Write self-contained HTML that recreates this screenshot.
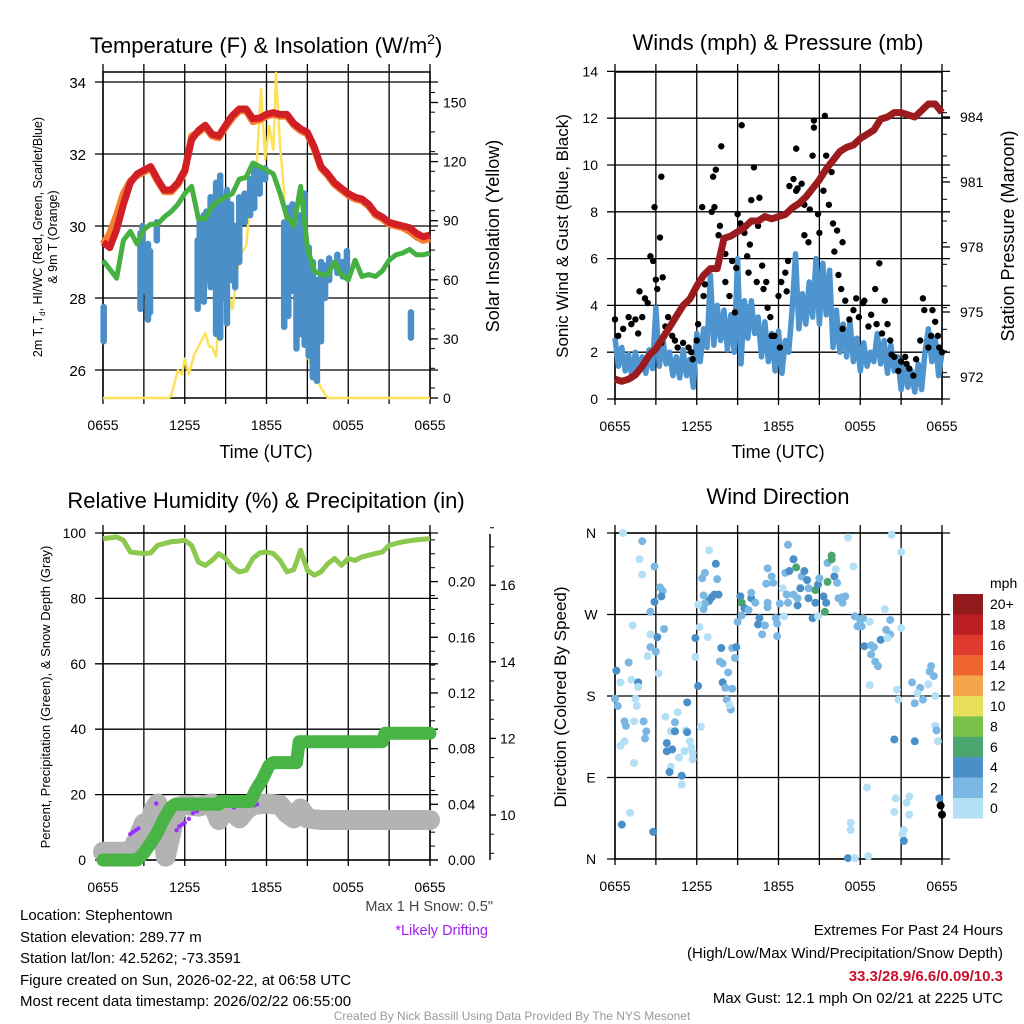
<!DOCTYPE html>
<html><head><meta charset="utf-8">
<style>
html,body{margin:0;padding:0;background:#fff;}
svg{display:block;font-family:"Liberation Sans",Arial,sans-serif;}
</style></head>
<body>
<svg id="root" width="1024" height="1024" viewBox="0 0 1024 1024" xmlns="http://www.w3.org/2000/svg">
<rect width="1024" height="1024" fill="#fff"/>
<g id="p1"></g>
<g id="p2"></g>
<g id="p3"></g>
<g id="p4"></g>
<text x="266" y="53" font-size="22" text-anchor="middle">Temperature (F) &amp; Insolation (W/m<tspan font-size="14" dy="-9">2</tspan><tspan dy="9">)</tspan></text>
<text x="778" y="50" font-size="22" text-anchor="middle">Winds (mph) &amp; Pressure (mb)</text>
<text x="266" y="508" font-size="22" text-anchor="middle">Relative Humidity (%) &amp; Precipitation (in)</text>
<text x="778" y="504" font-size="22" text-anchor="middle">Wind Direction</text>
<text x="266" y="458" font-size="18" text-anchor="middle">Time (UTC)</text>
<text x="778" y="458" font-size="18" text-anchor="middle">Time (UTC)</text>
<text font-size="12.5" text-anchor="middle" transform="translate(42,237) rotate(-90)">2m T, T<tspan font-size="8" dy="3">d</tspan><tspan dy="-3">, HI/WC (Red, Green, Scarlet/Blue)</tspan></text>
<text font-size="12.5" text-anchor="middle" transform="translate(57,237) rotate(-90)">&amp; 9m T (Orange)</text>
<text font-size="18" text-anchor="middle" transform="translate(499,236) rotate(-90)">Solar Insolation (Yellow)</text>
<text font-size="17" text-anchor="middle" transform="translate(568,236) rotate(-90)">Sonic Wind &amp; Gust (Blue, Black)</text>
<text font-size="18" text-anchor="middle" transform="translate(1014,236) rotate(-90)">Station Pressure (Maroon)</text>
<text font-size="13" text-anchor="middle" transform="translate(50,697) rotate(-90)">Percent, Precipitation (Green), &amp; Snow Depth (Gray)</text>
<text font-size="17" text-anchor="middle" transform="translate(566,697) rotate(-90)">Direction (Colored By Speed)</text>
<g font-size="15">
<text x="20" y="920">Location: Stephentown</text>
<text x="20" y="942">Station elevation: 289.77 m</text>
<text x="20" y="963">Station lat/lon: 42.5262; -73.3591</text>
<text x="20" y="985">Figure created on Sun, 2026-02-22, at 06:58 UTC</text>
<text x="20" y="1006">Most recent data timestamp: 2026/02/22 06:55:00</text>
</g>
<text x="493" y="911" font-size="14.5" fill="#444" text-anchor="end">Max 1 H Snow: 0.5"</text>
<text x="488" y="935" font-size="14.5" fill="#a020f0" text-anchor="end">*Likely Drifting</text>
<g font-size="15" text-anchor="end">
<text x="1003" y="935">Extremes For Past 24 Hours</text>
<text x="1003" y="958">(High/Low/Max Wind/Precipitation/Snow Depth)</text>
<text x="1003" y="981" fill="#c8102e" font-weight="bold">33.3/28.9/6.6/0.09/10.3</text>
<text x="1003" y="1003">Max Gust: 12.1 mph On 02/21 at 2225 UTC</text>
</g>
<text x="512" y="1020" font-size="12" fill="#999" text-anchor="middle">Created By Nick Bassill Using Data Provided By The NYS Mesonet</text>
</svg>
<script>
// ---------- DATA ----------
const hours = [0,0.5,1,1.5,2,2.5,3,3.5,4,4.5,5,5.5,6,6.5,7,7.5,8,8.5,9,9.5,10,10.5,11,11.5,12,12.5,13,13.5,14,14.5,15,15.5,16,16.5,17,17.5,18,18.5,19,19.5,20,20.5,21,21.5,22,22.5,23,23.5,24];
const tempRed = [29.55,29.4,29.9,30.6,31.2,31.45,31.55,31.65,31.3,31.0,31.0,31.2,31.55,32.4,32.65,32.8,32.55,32.5,32.8,33.07,33.25,33.25,32.98,33.0,33.1,33.15,33.1,33.1,32.85,32.7,32.6,32.2,31.65,31.45,31.2,31.05,30.9,30.8,30.75,30.6,30.35,30.25,30.1,30.05,30.0,29.95,29.8,29.7,29.75];
const temp9m = [29.5,29.8,30.3,30.9,31.25,31.4,31.5,31.6,31.25,30.95,30.95,31.15,31.5,32.5,32.6,32.75,32.5,32.45,32.75,33.0,33.2,33.2,32.9,32.95,33.05,33.1,33.05,33.05,32.8,32.65,32.55,32.15,31.6,31.4,31.15,31.0,30.85,30.75,30.7,30.55,30.3,30.2,30.05,30.0,29.95,29.85,29.7,29.6,29.65];
const dewGreen = [29.04,28.8,28.55,29.6,29.85,29.5,29.9,30.05,30.05,30.25,30.4,30.6,30.9,31.1,30.2,30.2,30.55,30.7,30.8,30.9,31.3,31.35,31.75,31.65,31.55,31.45,30.9,30.25,30.0,31.1,29.4,28.75,28.65,28.65,29.0,28.65,28.5,29.05,28.6,28.65,28.6,28.75,29.05,29.2,29.25,29.35,29.2,29.2,29.25];
const wcHours = [0.05,2.75,2.9,3.3,3.45,3.95,6.95,7.1,7.4,7.6,7.9,8.3,8.6,8.9,9.1,9.4,9.7,10.0,10.4,10.8,11.1,11.5,11.9,13.3,13.6,13.9,14.2,14.5,14.8,15.1,15.4,15.7,16.0,16.3,16.6,17.2,17.6,17.9,22.6];
const wcLow = [26.8,27.7,28.2,27.4,27.6,29.6,27.7,28.0,27.9,28.5,28.3,27.0,26.9,28.0,27.3,28.5,28.3,29.0,30.1,30.3,30.5,30.9,31.3,27.2,27.5,28.2,26.6,27.0,26.7,26.4,25.8,25.7,26.8,28.0,28.5,28.7,28.6,28.6,26.9];
const wcHigh = [27.75,29.8,30.0,29.5,29.3,30.1,29.6,30.2,30.3,30.4,30.8,31.2,31.4,30.8,31.0,30.6,30.0,30.8,30.9,31.3,31.6,31.6,31.6,30.1,30.5,30.6,30.0,30.3,30.9,29.4,29.0,28.5,29.0,28.9,29.1,29.2,29.0,29.3,27.6];
const solarHours = [0,4.8,5,5.5,5.8,6,6.3,6.7,7,7.5,7.8,8,8.3,8.5,9,9.5,10,10.5,10.8,11,11.3,11.6,11.9,12.2,12.5,12.7,13,13.3,13.6,14,14.3,14.7,15,15.5,16,16.3,16.5,24];
const solarVals = [0,0,1,14,12,20,12,22,26,33,26,26,21,40,58,45,72,77,99,99,121,157,121,138,126,165,128,104,60,57,42,36,21,13,5,2,0,0];
const t1Ticks = [26,28,30,32,34];
const s1Ticks = [0,30,60,90,120,150];
const timeLabels = ["0655","1255","1855","0055","0655"];

const windVals = [2.6,1.4,2.2,1.2, 1.9,0.9,2.0,1.2, 1.8,1.1,2.1,1.3, 3.9,1.4,2.6,1.5, 2.0,1.0,1.8,0.9, 2.1,1.0,1.7,0.5, 2.8,1.6,3.0,2.2, 5.3,2.3,4.0,2.5, 3.8,2.1,3.6,2.0, 6.0,1.5,4.2,2.6, 4.2,2.8,3.5,1.8, 3.3,1.6,2.8,1.2, 2.9,1.1,2.5,2.0, 3.8,6.2,3.0,4.5, 3.2,5.0,3.5,6.0, 3.2,5.8,3.6,5.5, 2.2,3.8,2.0,3.2, 1.8,3.3,1.6,2.6, 1.2,2.4,1.4,2.0, 1.6,2.8,1.5,2.5, 1.1,2.3,1.2,1.8, 0.4,1.4,0.5,1.2, 0.3,1.5,0.4,2.0, 3.0,1.6,2.6,1.0, 2.0];
const gustHours = [0,0.24,0.6,1.0,1.2,1.5,1.7,2.0,1.8,2.2,2.4,2.6,2.8,2.9,3.0,3.3,3.4,3.5,3.1,3.4,3.7,3.9,4.2,4.4,4.6,5.0,5.4,5.6,5.7,6.0,6.1,6.4,6.5,6.6,7.1,7.3,7.2,7.4,7.8,7.7,7.6,8.1,8.1,8.4,8.6,8.8,8.9,9.0,9.2,9.3,9.5,9.7,9.8,9.9,10.0,10.2,10.4,10.5,10.6,10.8,10.9,11.1,11.2,11.4,11.5,11.7,12.0,12.1,12.2,12.5,12.6,12.7,12.8,13.1,13.3,13.4,13.3,13.7,13.9,13.9,14.2,14.3,14.5,14.6,14.6,14.9,15.0,15.3,15.4,15.5,15.7,15.9,16.0,16.3,16.4,16.1,16.7,16.6,16.9,16.7,17.2,17.5,17.7,17.9,18.2,18.3,18.6,18.8,19.1,19.2,19.4,19.6,19.8,20.0,20.2,20.3,20.5,20.8,21.0,21.3,21.4,21.6,21.9,22.1,22.4,22.6,22.7,23.0,23.2,23.3,23.5,23.7,23.8,24.0];
const gustVals = [3.4,2.7,3.0,3.5,3.2,3.4,2.8,3.5,4.6,4.3,4.1,6.1,5.9,8.2,5.1,6.9,9.5,5.2,4.7,2.4,3.1,3.5,2.7,2.5,2.2,2.4,2.2,2.0,1.7,2.5,3.2,8.2,4.4,4.9,8.0,8.2,9.5,9.8,10.8,7.4,7.0,6.2,5.0,4.4,5.9,3.7,5.6,7.9,7.5,11.7,7.1,6.1,5.4,6.6,8.5,9.9,5.0,7.4,8.6,5.7,4.7,5.0,3.9,3.5,2.7,2.7,4.4,2.2,5.0,5.4,4.6,5.9,9.1,9.4,10.7,9.0,8.9,9.2,8.3,7.0,6.7,8.1,10.4,11.6,11.9,7.9,7.1,8.9,12.1,10.4,8.3,9.7,7.5,7.2,5.3,6.3,6.7,4.7,4.2,3.0,3.4,3.8,4.3,3.5,4.1,4.2,3.1,3.6,4.7,3.2,5.8,2.8,4.2,3.2,2.5,1.9,1.8,1.2,1.6,1.8,1.5,1.3,1.0,1.7,2.5,4.3,3.8,2.2,2.7,3.8,3.3,2.7,2.2,2.0];
const pressVals = [971.9,971.8,971.9,972.1,972.5,973.0,973.3,973.8,974.3,974.8,975.3,975.6,976.2,976.7,977.0,977.0,978.4,978.5,978.7,978.9,979.2,979.2,979.4,979.3,979.4,979.5,979.8,980.0,980.3,980.7,981.1,981.6,982.0,982.4,982.6,982.7,983.0,983.2,983.4,983.9,984.0,984.2,984.2,984.1,984.0,984.3,984.6,984.6,984.2];
const windTicks = [0,2,4,6,8,10,12,14];
const pressTicks = [972,975,978,981,984];

const rhVals = [98.3,98.5,98.8,97.8,94.2,93.9,93.7,93.9,96.2,96.8,97.3,97.5,97.8,96.2,91.1,90.1,91.6,93.7,92.2,89.6,88.1,88.6,92.2,93.9,94.2,93.7,91.6,88.1,88.8,94.7,88.6,87.1,88.1,90.6,92.2,90.1,92.2,91.6,92.7,93.2,93.7,94.2,96.2,96.8,97.3,97.6,97.9,98.1,98.3];
const precipHours = [0,2.5,3,3.5,4,4.5,5,5.3,8.5,8.6,10.8,11.2,11.7,12.2,12.5,14.2,14.4,20.5,20.7,24];
const precipVals = [0,0,0.005,0.012,0.02,0.03,0.038,0.04,0.04,0.042,0.042,0.05,0.058,0.068,0.07,0.07,0.085,0.085,0.091,0.091];
const snowHours = [0,2,2.5,3,3.3,3.7,4,4.3,4.6,5,5.3,5.6,6,7,7.5,8,8.5,9,10,10.5,11,12,13,13.5,14,14.5,15,16,24];
const snowVals = [9.04,9.04,9.35,9.78,9.61,10.13,10.3,9.87,8.91,9.52,10.04,10.22,10.26,10.22,10.26,10.3,9.87,10.22,9.91,10.13,10.26,10.3,10.26,10.04,9.91,10.17,9.91,9.87,9.87];
const driftHours = [2.0,2.2,2.4,2.6,3.9,5.4,5.6,5.8,6.0,6.3,6.6,6.9,7.2,9.4,9.6,11.1,11.3];
const driftVals = [9.5,9.55,9.6,9.65,10.3,9.6,9.7,9.75,9.8,9.9,10.05,10.1,10.2,10.25,10.2,10.25,10.28];
const rhTicks = [0,20,40,60,80,100];
const precipTicks = [0.00,0.04,0.08,0.12,0.16,0.20];
const snowTicks = [10,12,14,16];

const dirHours = [0.6,2.0,1.8,2.0,2.9,3.3,3.5,3.4,2.9,2.6,1.3,3.1,2.6,3.6,2.6,2.4,3.0,1.0,0.1,0.4,1.2,1.7,1.7,3.2,0,0.2,1.5,1.6,0.7,0.8,1.4,2.1,2.3,2.2,0.7,0.4,1.4,1.1,0.5,2.8,3.7,4.4,4.6,4.1,4.4,5.2,5.3,5.3,3.8,3.8,4.2,5.5,5.6,5.1,5.7,4.7,5.7,4.1,4.0,4.9,4.9,6.3,6.9,7.4,6.6,6.4,7.5,6.5,7.1,7.3,7.6,6.9,6.6,6.5,6.1,6.2,6.8,5.9,5.9,6.1,7.8,8.6,8.9,8.8,7.7,7.9,8.3,7.9,8.1,8.6,8.2,8.5,8.4,9.2,9.3,9.5,10.0,10.0,9.8,10.3,10.6,10.5,11.0,10.8,9.0,9.3,11.2,11.5,11.1,11.6,11.2,11.2,11.8,11.9,11.9,12.1,12.3,12.5,12.7,12.8,13.1,13.3,12.6,13.1,12.7,12.4,13.4,13.4,13.6,13.7,13.9,14.1,14.2,14.2,14.5,14.7,14.7,14.9,15.0,15.3,15.5,15.4,15.6,15.6,15.9,15.9,16.1,16.2,16.3,14.9,16.4,16.7,16.7,16.9,17.1,17.5,17.6,17.8,18.0,18.2,18.1,18.7,18.3,18.8,19.0,18.8,19.1,19.3,19.5,19.8,19.9,20.2,20.2,20.0,20.3,21.0,21.0,18.7,20.7,20.8,21.8,22.0,22.4,22.6,23.0,23.1,23.2,23.4,23.5,23.5,23.6,23.7,22.2,20.5,22.0,18.5,17.3,17.3,17.1,17.6,18.6,20.6,20.5,21.4,21.6,21.6,21.2,21.1,21.2,23.8,23.9,24.0];
const dirDeg = [360,351,331,314,323,300,296,290,284,273,258,245,248,254,234,224,229,217,208,195,198,195,190,205,177,169,177,169,152,147,152,152,141,133,130,125,106,51,38,30,157,151,162,141,141,142,140,173,128,119,121,130,123,119,117,112,110,102,96,92,82,146,341,326,316,310,309,291,289,292,292,285,282,276,281,256,245,244,223,191,233,233,234,222,218,216,206,195,189,188,176,165,170,290,283,277,288,294,275,283,266,259,258,248,262,269,321,312,304,305,283,278,266,260,246,282,299,316,347,318,331,322,292,292,283,268,280,288,299,312,318,308,288,299,266,283,297,303,310,290,283,273,306,327,335,331,312,320,305,268,288,289,283,290,355,323,268,257,264,266,257,262,235,236,234,226,218,213,242,276,253,248,264,244,358,339,255,192,187,176,195,172,189,176,193,207,213,202,180,147,142,130,183,132,130,79,40,32,1,1,3,67,52,62,69,49,32,27,20,67,59,49];
const dirSpeed = [1,3,1,1,3,3,3,5,5,3,1,5,1,3,3,1,3,3,5,1,1,5,1,1,3,3,1,1,3,3,1,3,3,3,1,1,1,1,5,5,1,3,1,1,5,1,5,5,5,5,5,1,1,1,1,1,1,1,5,5,1,1,1,5,3,3,3,3,5,5,5,5,3,3,1,1,1,5,1,5,5,3,5,3,3,3,3,5,3,3,3,3,1,5,7,5,5,3,3,3,5,5,3,3,3,3,3,3,3,3,3,3,3,3,3,3,1,3,3,5,5,7,3,3,3,1,5,3,5,3,5,5,5,3,5,5,7,5,3,5,5,7,7,3,7,7,5,1,3,1,3,3,3,3,1,1,3,3,3,3,3,1,5,3,3,3,3,3,5,1,3,3,3,1,1,1,1,1,1,1,3,3,3,3,1,3,3,3,1,1,3,1,1,5,5,1,1,1,5,1,1,1,1,1,1,1,1,1,5,5];
const dirLabels = ["N","E","S","W","N"];
const cbLabels = ["20+","18","16","14","12","10","8","6","4","2","0"];
const cbColors = ["#921a1c","#bd1e24","#de3a2d","#ef6530","#f5a64a","#e8e05a","#7bc24a","#4aa56e","#4a8fc7","#7bb7e3","#b3e0f5"];

// ---------- HELPERS ----------
const NS = "http://www.w3.org/2000/svg";
function mk(parent, tag, attrs){
  const el = document.createElementNS(NS, tag);
  for (const k in attrs) el.setAttribute(k, attrs[k]);
  parent.appendChild(el);
  return el;
}
function pts(xs, ys, fx, fy){ return xs.map((x,i)=>fx(x).toFixed(1)+","+fy(ys[i]).toFixed(1)).join(" "); }

const X1 = h => 103 + h*327/24;
const X2 = h => 615 + h*327/24;
const YT = t => 154 + (32-t)*36;
const YS = s => 398 - s*1.97;
const YW = w => 399 - w*23.4;
const YP = p => 377 - (p-972)*21.67;
const YR = r => 860 - r*3.27;
const YPr = p => 860 - p*1392;
const YSn = s => 815 - (s-10)*38.3;
const YD = d => 859 - d*326/360;

function frame(g, x0, x1, y0, y1, nameBase){
  for (let i=0;i<=8;i++){
    const x = x0 + i*(x1-x0)/8;
    const l = mk(g,"line",{x1:x,x2:x,y1:y0-8,y2:y1+6,stroke:"#000","stroke-width":1.3});
    
    
  }
  const r = mk(g,"rect",{x:x0,y:y0,width:x1-x0,height:y1-y0,fill:"none",stroke:"#000","stroke-width":1.5});
  
  
  for (let i=0;i<5;i++){
    const t = mk(g,"text",{x:x0+i*(x1-x0)/4,y:y1+32,"font-size":14,"text-anchor":"middle"});
    t.textContent = timeLabels[i];
    
    
  }
}
function hgrid(g, x0, x1, y, nameBase){
  const l = mk(g,"line",{x1:x0-8,x2:x1+8,y1:y,y2:y,stroke:"#000","stroke-width":1.3});
  
  
}
function label(g, x, y, txt, anchor, size, nameBase){
  const t = mk(g,"text",{x:x,y:y,"font-size":size||14,"text-anchor":anchor});
  t.textContent = txt;
  
  
}
function minorTicks(g, x, from, to, step, dir, nameBase){
  for (let y=from; y<=to+0.01; y+=step){
    const l = mk(g,"line",{x1:x,x2:x+dir,y1:y,y2:y,stroke:"#000","stroke-width":1});
    
    
  }
}

// ---------- PANEL 1 ----------
const g1 = document.getElementById('p1');
frame(g1,103,430,72,398,'temp');
t1Ticks.forEach(t=>{ hgrid(g1,103,430,YT(t),'temp'); label(g1,86,YT(t)+6,String(t),'end',15,'temp-y-tick-label'); });
s1Ticks.forEach(s=>{ const l=mk(g1,"line",{x1:430,x2:438,y1:YS(s),y2:YS(s),stroke:"#000","stroke-width":1.3});   label(g1,443,YS(s)+5,String(s),'start',14,'insolation-tick-label'); });
minorTicks(g1,430,YS(150)-10,398,YS(0)-YS(10),5,'insolation-minor-tick');
const yl = mk(g1,"polyline",{points:pts(solarHours,solarVals,X1,YS),fill:"none",stroke:"#fde15a","stroke-width":2.5,"stroke-linejoin":"round"});


wcHours.forEach((h,i)=>{
  const b = mk(g1,"line",{x1:X1(h),x2:X1(h),y1:YT(wcLow[i]),y2:YT(wcHigh[i]),stroke:"#4a8fc7","stroke-width":6.5,"stroke-linecap":"round"});
  
  
});
const gl = mk(g1,"polyline",{points:pts(hours,dewGreen,X1,YT),fill:"none",stroke:"#46b043","stroke-width":5,"stroke-linejoin":"round"});


const ol = mk(g1,"polyline",{points:pts(hours,temp9m,X1,YT),fill:"none",stroke:"#f57f2f","stroke-width":7,"stroke-linejoin":"round"});


const rl = mk(g1,"polyline",{points:pts(hours,tempRed,X1,YT),fill:"none",stroke:"#d21f26","stroke-width":7,"stroke-linejoin":"round"});



// ---------- PANEL 2 ----------
const g2 = document.getElementById('p2');
frame(g2,615,942,72,399,'winds');
windTicks.forEach(w=>{ hgrid(g2,615,942,YW(w),'winds'); label(g2,598,YW(w)+5,String(w),'end',14,'wind-tick-label'); });
pressTicks.forEach(p=>{ const l=mk(g2,"line",{x1:942,x2:950,y1:YP(p),y2:YP(p),stroke:"#000","stroke-width":1.3});   label(g2,960,YP(p)+5,String(p),'start',14,'pressure-tick-label'); });
minorTicks(g2,942,YP(985.2),YP(971.9),YP(972)-YP(973),5,'pressure-minor-tick');
const wh = windVals.map((v,i)=>i*0.25);
const wl = mk(g2,"polyline",{points:pts(wh,windVals,X2,YW),fill:"none",stroke:"#4e95d0","stroke-width":5.5,"stroke-linejoin":"round"});


gustHours.forEach((h,i)=>{
  const c = mk(g2,"circle",{cx:X2(h),cy:YW(gustVals[i]),r:3.2,fill:"#000"});
  
  
});
const pl = mk(g2,"polyline",{points:pts(hours,pressVals,X2,YP),fill:"none",stroke:"#9b1b1e","stroke-width":7,"stroke-linejoin":"round"});



// ---------- PANEL 3 ----------
const g3 = document.getElementById('p3');
frame(g3,103,430,533,860,'humidity');
rhTicks.forEach(r=>{ hgrid(g3,103,430,YR(r),'humidity'); label(g3,86,YR(r)+5,String(r),'end',14,'humidity-tick-label'); });
precipTicks.forEach(p=>{ const l=mk(g3,"line",{x1:430,x2:438,y1:YPr(p),y2:YPr(p),stroke:"#000","stroke-width":1.3});   label(g3,448,YPr(p)+5,p.toFixed(2),'start',14,'precip-tick-label'); });
minorTicks(g3,430,YPr(0.23),860,YPr(0)-YPr(0.01),5,'precip-minor-tick');
const sa = mk(g3,"line",{x1:490,x2:490,y1:534,y2:860,stroke:"#000","stroke-width":1.5});


snowTicks.forEach(s=>{ const l=mk(g3,"line",{x1:490,x2:496,y1:YSn(s),y2:YSn(s),stroke:"#000","stroke-width":1.3});   label(g3,500,YSn(s)+5,String(s),'start',14,'snow-tick-label'); });
minorTicks(g3,490,YSn(17.5),YSn(9),YSn(10)-YSn(10.5),4,'snow-minor-tick');
const sl = mk(g3,"polyline",{points:pts(snowHours,snowVals,X1,YSn),fill:"none",stroke:"#b3b3b3","stroke-width":20,"stroke-linejoin":"round","stroke-linecap":"round"});


driftHours.forEach((h,i)=>{
  const c = mk(g3,"circle",{cx:X1(h),cy:YSn(driftVals[i]),r:2.2,fill:"#9b30ff"});
  
  
});
const prl = mk(g3,"polyline",{points:pts(precipHours,precipVals,X1,YPr),fill:"none",stroke:"#49b446","stroke-width":13,"stroke-linejoin":"round","stroke-linecap":"round"});


const rhl = mk(g3,"polyline",{points:pts(hours,rhVals,X1,YR),fill:"none",stroke:"#8dc84f","stroke-width":5,"stroke-linejoin":"round"});



// ---------- PANEL 4 ----------
const g4 = document.getElementById('p4');
frame(g4,615,942,533,859,'direction');
dirLabels.forEach((d,i)=>{ const deg=i*90; hgrid(g4,615,942,YD(deg),'direction'); label(g4,591,YD(deg)+5,d,'middle',14,'direction-tick-label'); });
function speedColor(s){ const idx = Math.min(10, Math.floor(s/2)); return cbColors[10-idx]; }
dirHours.forEach((h,i)=>{
  const c = mk(g4,"circle",{cx:X2(h),cy:YD(dirDeg[i]),r:4,fill:speedColor(dirSpeed[i])});
  
  
});
cbColors.forEach((col,i)=>{
  const r = mk(g4,"rect",{x:953,y:594+i*20.4,width:30,height:20.6,fill:col});
  
  
  label(g4,990,594+i*20.4+15,cbLabels[i],'start',14,'colorbar-label');
});
label(g4,990,588,'mph','start',14,'colorbar-title');
</script>
</body></html>
